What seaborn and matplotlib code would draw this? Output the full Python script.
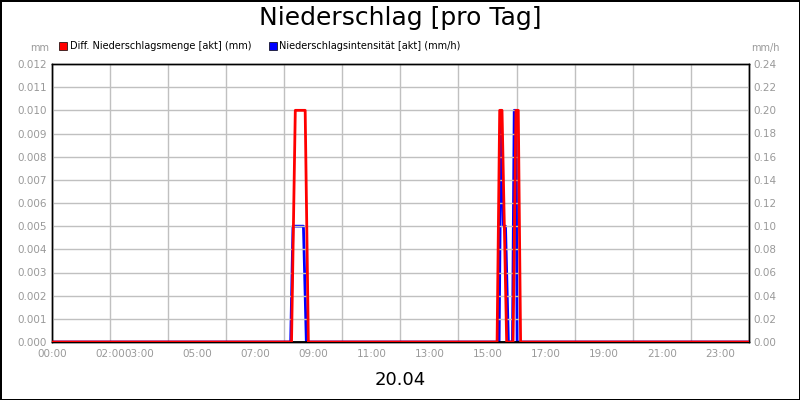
import matplotlib
matplotlib.use("Agg")
import matplotlib.pyplot as plt
import seaborn as sns
import pandas as pd

# Data (hours of day)
red_t = [0, 8.25, 8.38, 8.72, 8.83, 15.33, 15.42, 15.50, 15.66, 15.88, 15.98, 16.06, 16.14, 24]
red_v = [0, 0, 0.010, 0.010, 0, 0, 0.010, 0.010, 0, 0, 0.010, 0.010, 0, 0]
blue_t = [0, 8.22, 8.3, 8.66, 8.76, 15.40, 15.47, 15.55, 15.62, 15.72, 15.86, 15.92, 15.98, 16.02, 24]
blue_v = [0, 0, 0.10, 0.10, 0, 0, 0.20, 0.10, 0.10, 0, 0, 0.20, 0.20, 0, 0]
grid_hours = list(range(0, 25, 2))
tick_hours = [0, 2, 3, 5, 7, 9, 11, 13, 15, 17, 19, 21, 23]
tick_labels = ["00:00", "02:00", "03:00", "05:00", "07:00", "09:00", "11:00",
               "13:00", "15:00", "17:00", "19:00", "21:00", "23:00"]

red_df = pd.DataFrame({"t": red_t, "v": red_v})
blue_df = pd.DataFrame({"t": blue_t, "v": blue_v})

fig = plt.figure(figsize=(8, 4), dpi=100)
fig.patch.set_edgecolor("black"); fig.patch.set_linewidth(2)
ax = fig.add_axes([0.065, 0.145, 0.871, 0.695])
ax2 = ax.twinx()
sns.lineplot(data=blue_df, x="t", y="v", ax=ax2, color="#0000ff", lw=2)
sns.lineplot(data=red_df, x="t", y="v", ax=ax, color="#ff0000", lw=2, zorder=3)
ax.set_zorder(ax2.get_zorder() + 1); ax.patch.set_visible(False)

ax.set_xlim(0, 24); ax.set_ylim(0, 0.012)
ax2.set_ylim(0, 0.24)
ax.set_yticks([i * 0.001 for i in range(13)])
ax.set_yticklabels([f"{i*0.001:.3f}" for i in range(13)])
ax2.set_yticks([i * 0.02 for i in range(13)])
ax2.set_yticklabels([f"{i*0.02:.2f}" for i in range(13)])
ax.set_xticks(tick_hours)
ax.set_xticklabels(tick_labels)
ax.tick_params(axis="x", length=0, labelsize=7.5, colors="#999999", pad=5)
ax.tick_params(axis="y", length=0, labelsize=7.5, colors="#999999")
ax2.tick_params(axis="y", length=0, labelsize=7.5, colors="#999999")
ax.grid(True, axis="y", color="#c0c0c0", lw=1)
for h in grid_hours:
    ax2.axvline(h, color="#c0c0c0", lw=1, zorder=0)
for a in (ax, ax2):
    a.set_xlabel(""); a.set_ylabel("")
    for s in a.spines.values():
        s.set_color("black"); s.set_linewidth(1)
ax.axhline(0, color="black", lw=2, zorder=2)

fig.text(0.5, 0.955, "Niederschlag [pro Tag]", ha="center", va="center", fontsize=18)
fig.text(0.5, 0.05, "20.04", ha="center", va="center", fontsize=13)
fig.text(0.05, 0.88, "mm", ha="center", va="center", fontsize=7, color="#999999")
fig.text(0.957, 0.88, "mm/h", ha="center", va="center", fontsize=7, color="#999999")
fig.patches.append(plt.Rectangle((0.074, 0.874), 0.01, 0.02, transform=fig.transFigure, color="#ff0000", ec="black", lw=0.5))
fig.text(0.087, 0.884, "Diff. Niederschlagsmenge [akt] (mm)", va="center", fontsize=7)
fig.patches.append(plt.Rectangle((0.336, 0.874), 0.01, 0.02, transform=fig.transFigure, color="#0000ff", ec="black", lw=0.5))
fig.text(0.349, 0.884, "Niederschlagsintensität [akt] (mm/h)", va="center", fontsize=7)
fig.savefig("out.png", dpi=100, edgecolor=fig.get_edgecolor())
